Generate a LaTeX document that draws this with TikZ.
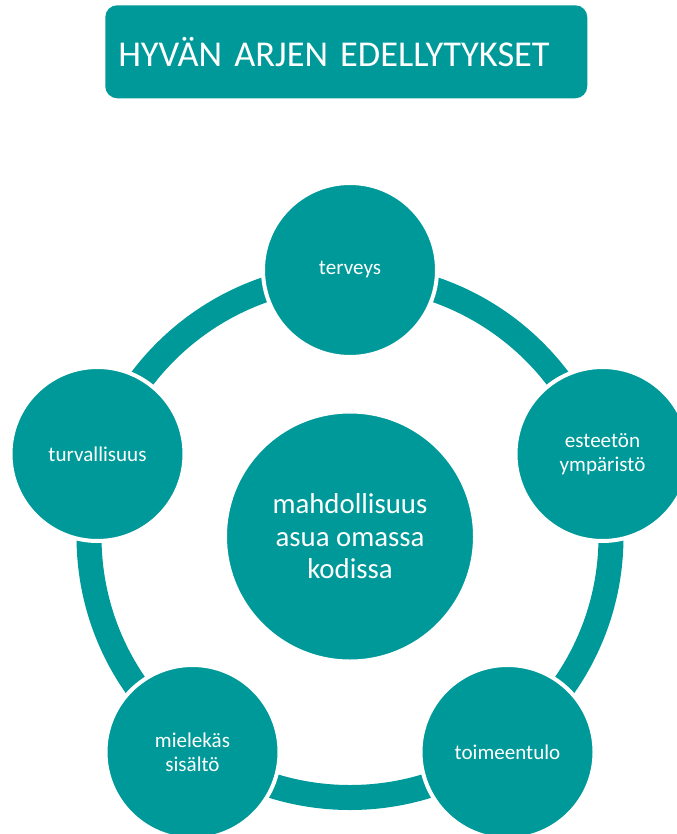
\documentclass[tikz,border=0pt]{standalone}
\usepackage{fontspec}
\setmainfont{Carlito}

\definecolor{arjenteal}{RGB}{0,153,153}
\newcommand*\px{0.75pt}
\newcommand*\petalsize{174}
\newcommand*\hubsize{250}
\newcommand*\ringradius{261}
\tikzset{bubble/.style={
    circle,
    fill=arjenteal,
    draw=white,
    line width=4*\px,
    minimum size=#1*\px,
    inner sep=0pt,
    text=white,
    align=center
},
petal/.style={
    bubble=\petalsize,
    font=\fontsize{15.8}{18}\selectfont
},
ring/.style={
    draw=arjenteal,
    line width=25*\px
}}

\begin{document}
\begin{tikzpicture}[x=\px,y=-\px]
    \useasboundingbox (0,0) rectangle (676,834);

    % Title bar.
    \node[anchor=north west, fill=arjenteal, rounded corners=12*\px,
        minimum width=482*\px, minimum height=93*\px, inner xsep=13*\px,
        text width=456*\px, align=left, text=white,
        font=\fontsize{27.3}{30}\selectfont] (title) at (105,5)
        {HYVÄN ARJEN EDELLYTYKSET};

    % The ring first, so that the circles cover it.
    \coordinate (middle) at (350,536.5);
    \draw[ring] (middle) circle[radius=\ringradius];

    % Middle circle.
    \node[bubble=\hubsize, font=\fontsize{21.6}{24.4}\selectfont] (koti) at (middle)
        {mahdollisuus\\asua omassa\\kodissa};

    % Circles round the ring, clockwise from the top.
    \node[petal] (terveys) at (350,270) {terveys};
    \node[petal] (esteeton) at (602.5,454) {esteetön\\ympäristö};
    \node[petal] (toimeentulo) at (507.5,752) {toimeentulo};
    \node[petal] (mielekas) at (192.5,752) {mielekäs\\sisältö};
    \node[petal] (turvallisuus) at (97.5,454) {turvallisuus};

\end{tikzpicture}
\end{document}
